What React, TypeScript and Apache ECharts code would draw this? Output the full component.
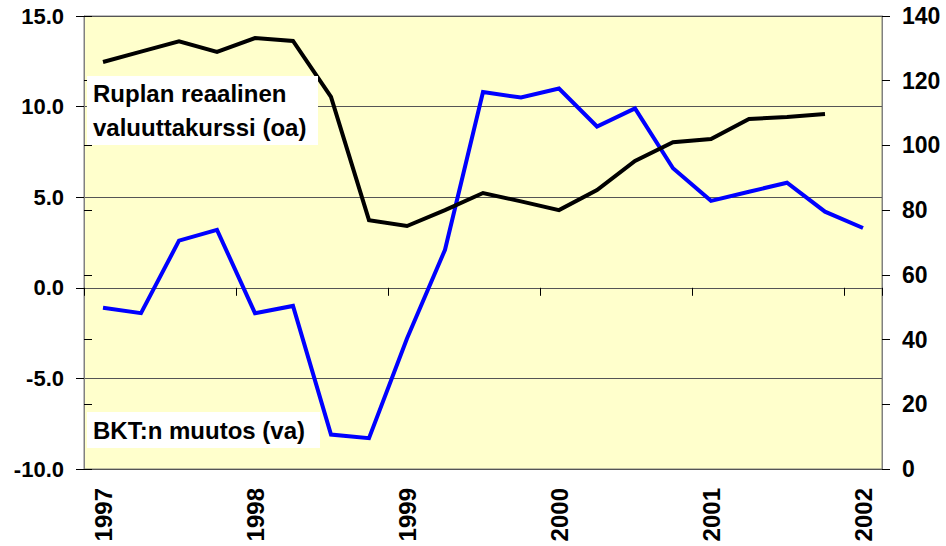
import React, { useEffect, useRef } from 'react';
import * as echarts from 'echarts';

// 1997 Q1 ... 2002 Q1
const quarters = [
  '1997 Q1', '1997 Q2', '1997 Q3', '1997 Q4',
  '1998 Q1', '1998 Q2', '1998 Q3', '1998 Q4',
  '1999 Q1', '1999 Q2', '1999 Q3', '1999 Q4',
  '2000 Q1', '2000 Q2', '2000 Q3', '2000 Q4',
  '2001 Q1', '2001 Q2', '2001 Q3', '2001 Q4',
  '2002 Q1',
];

// Ruplan reaalinen valuuttakurssi (oikea akseli)
const rubleRealRate = [
  125.8, 129.0, 132.2, 128.9,
  133.2, 132.3, 115.0, 76.9,
  75.1, 80.0, 85.3, 82.7,
  80.0, 86.2, 95.2, 101.0,
  102.0, 108.2, 108.8, 109.7,
  null,
];

// BKT:n muutos (vasen akseli)
const gdpChange = [
  -1.1, -1.4, 2.6, 3.2,
  -1.4, -1.0, -8.1, -8.3,
  -2.8, 2.1, 10.8, 10.5,
  11.0, 8.9, 9.9, 6.6,
  4.8, 5.3, 5.8, 4.2,
  3.3,
];

const leftTicks = { min: -10, max: 15, step: 5 };
const rightTicks = { min: 0, max: 140, step: 20 };

const FONT = '"Liberation Sans", Arial, sans-serif';

export default function App() {
  const ref = useRef<HTMLDivElement>(null);
  useEffect(() => {
    if (!ref.current) return;
    const chart = echarts.init(ref.current, undefined, { renderer: 'svg' });
    const labelStyle = { color: '#000', fontSize: 22, fontWeight: 'bold' as const, fontFamily: FONT };
    chart.setOption({
      animation: false,
      grid: {
        left: 84, right: 64, top: 16, bottom: 77,
        show: true, backgroundColor: '#FFFFCC', borderColor: '#808080', borderWidth: 1,
        containLabel: false,
      },
      xAxis: [
        {
          type: 'category', data: quarters, boundaryGap: true, position: 'bottom',
          axisLine: { show: false, onZero: false },
          axisTick: { show: false },
          splitLine: { show: false },
          axisLabel: {
            ...labelStyle, fontSize: 24, interval: 3, rotate: 90, margin: 19,
            formatter: (v: string) => v.slice(0, 4),
          },
        },
        {
          type: 'category', data: quarters, boundaryGap: true, position: 'top',
          axisLine: { show: true, onZero: true, onZeroAxisIndex: 0, lineStyle: { color: '#555', width: 1 } },
          axisTick: { show: true, interval: 3, inside: true, length: 8, lineStyle: { color: '#000', width: 1 } },
          axisLabel: { show: false },
          splitLine: { show: false },
        },
      ],
      yAxis: [
        {
          type: 'value', position: 'left', min: leftTicks.min, max: leftTicks.max, interval: leftTicks.step,
          axisLine: { show: true, lineStyle: { color: '#808080', width: 1 } },
          axisTick: { show: true, inside: false, length: 8, lineStyle: { color: '#000', width: 1 } },
          splitLine: { show: true, lineStyle: { color: '#555', width: 1 } },
          axisLabel: { ...labelStyle, margin: 20, formatter: (v: number) => v.toFixed(1) },
        },
        {
          type: 'value', position: 'right', min: rightTicks.min, max: rightTicks.max, interval: rightTicks.step,
          axisLine: { show: true, lineStyle: { color: '#808080', width: 1 } },
          axisTick: { show: true, inside: false, length: 8, lineStyle: { color: '#000', width: 1 } },
          splitLine: { show: false },
          axisLabel: { ...labelStyle, fontSize: 23, margin: 20 },
        },
        {
          type: 'value', position: 'left', min: rightTicks.min, max: rightTicks.max, interval: rightTicks.step,
          axisLine: { show: false },
          axisTick: { show: true, inside: true, length: 8, lineStyle: { color: '#000', width: 1 } },
          splitLine: { show: false },
          axisLabel: { show: false },
        },
      ],
      series: [
        {
          type: 'line', name: 'BKT:n muutos (va)', data: gdpChange,
          xAxisIndex: 0, yAxisIndex: 0, symbol: 'none', z: 3,
          lineStyle: { color: '#0000FF', width: 4, join: 'miter' },
        },
        {
          type: 'line', name: 'Ruplan reaalinen valuuttakurssi (oa)', data: rubleRealRate,
          xAxisIndex: 0, yAxisIndex: 1, symbol: 'none', z: 4, connectNulls: false,
          lineStyle: { color: '#000000', width: 4, join: 'miter' },
        },
      ],
      graphic: [
        { type: 'rect', z: 100, shape: { x: 87, y: 76, width: 231, height: 69 }, style: { fill: '#FFFFFF' } },
        {
          type: 'text', z: 101, x: 93, y: 110,
          style: {
            text: 'Ruplan reaalinen\nvaluuttakurssi (oa)', fill: '#000', fontSize: 24, fontWeight: 'bold',
            fontFamily: FONT, lineHeight: 34, align: 'left', verticalAlign: 'middle',
          },
        },
        { type: 'rect', z: 100, shape: { x: 87, y: 412, width: 233, height: 36 }, style: { fill: '#FFFFFF' } },
        {
          type: 'text', z: 101, x: 93, y: 430,
          style: {
            text: 'BKT:n muutos (va)', fill: '#000', fontSize: 24, fontWeight: 'bold',
            fontFamily: FONT, align: 'left', verticalAlign: 'middle',
          },
        },
      ],
    });
    return () => chart.dispose();
  }, []);
  return (
    <div
      ref={ref}
      style={{ position: 'fixed', left: 0, top: 0, width: 946, height: 546, background: '#fff' }}
    />
  );
}
